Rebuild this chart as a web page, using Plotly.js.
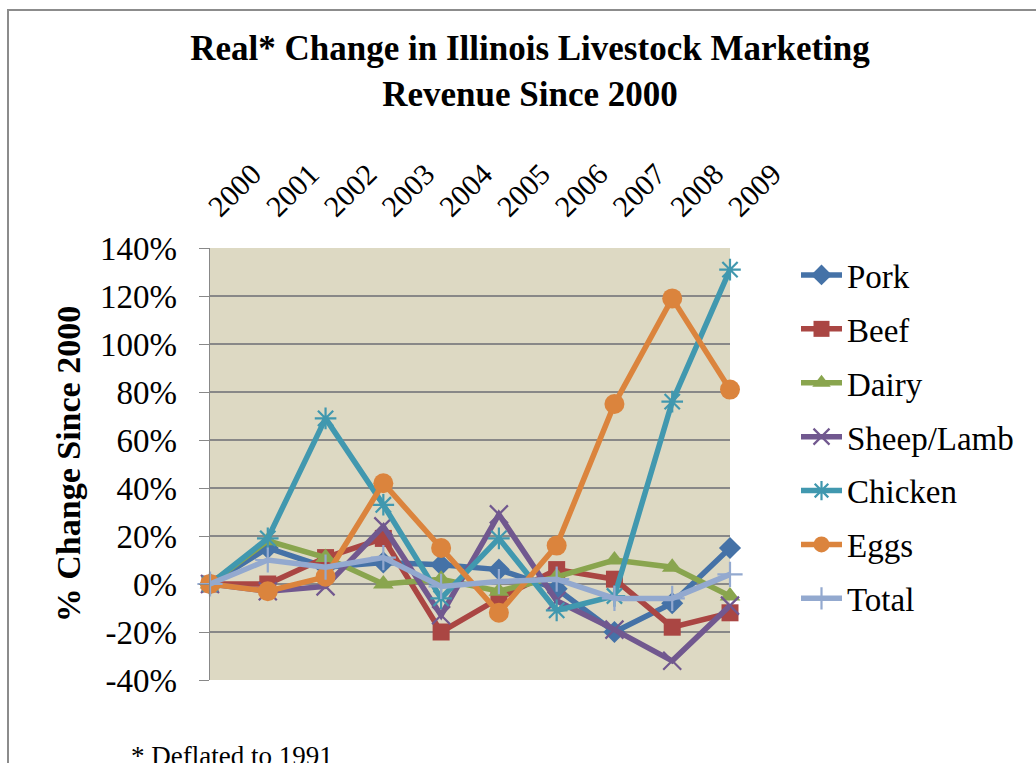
<!DOCTYPE html>
<html>
<head>
<meta charset="utf-8">
<script src="https://cdn.plot.ly/plotly-3.0.1.min.js"></script>
<style>
body{margin:0;background:#fff;}
#chart{width:1036px;height:763px;}
</style>
</head>
<body>
<div id="chart"></div>
<script>
// ================= DATA =================
let years = ["2000","2001","2002","2003","2004","2005","2006","2007","2008","2009"];

let pork    = [0, 15, 7, 9, 8, 6, -2, -20, -8, 15];
let beef    = [0, 0, 11, 19, -20, -6, 6, 2, -18, -12];
let dairy   = [0, 18, 11, 0, 2, -3, 3, 10, 7, -5];
let sheep   = [0, -3, -1, 24, -13, 29, -7, -19, -32, -9];
let chicken = [0, 19, 69, 33, -6, 19, -11, -5, 76, 131];
let eggs    = [0, -3, 3, 42, 15, -12, 16, 75, 119, 81];
let total   = [0, 10, 7, 11, -1, 1, 2, -6, -6, 4];

let yTickVals = [-40, -20, 0, 20, 40, 60, 80, 100, 120, 140];
let yTickText = ["-40%","-20%","0%","20%","40%","60%","80%","100%","120%","140%"];

// ================= TRACES =================
const FONT = "'Liberation Serif', 'Times New Roman', serif";

function series(name, values, color, symbol, size){
let open = symbol.indexOf("open") >= 0;
return {
x: years,
y: values,
name: name,
legendgroup: name,
type: "scatter",
mode: "lines+markers",
cliponaxis: false,
line: {color: color, width: 5.5},
marker: {
symbol: symbol,
size: size,
color: color,
line: {color: color, width: open ? 2.2 : 0}
}
};
}

let traces = [
series("Pork", pork, "#4572A7", "diamond", 17),
series("Beef", beef, "#AA4643", "square", 17),
series("Dairy", dairy, "#89A54E", "triangle-up", 18),
series("Sheep/Lamb", sheep, "#71588F", "x-thin-open", 18),
series("Chicken", chicken, "#4198AF", "asterisk-open", 18),
series("Eggs", eggs, "#DB843D", "circle", 20),
series("Total", total, "#93A9CF", "cross-thin-open", 18)
];

// ================= LAYOUT =================
let layout = {
width: 1036,
height: 763,
margin: {l: 210, r: 306, t: 248, b: 83},
paper_bgcolor: "#ffffff",
plot_bgcolor: "#DDD9C3",
font: {family: FONT, color: "#000000", size: 33},
title: {
text: "<b>Real* Change in Illinois Livestock Marketing<br>Revenue Since 2000</b>",
font: {family: FONT, size: 35, color: "#000000"},
x: 530/1036,
xanchor: "center",
y: 1 - 60/763,
yanchor: "middle"
},
xaxis: {
type: "category",
side: "top",
range: [0, 9],
showgrid: false,
zeroline: false,
showline: false,
ticks: "",
tickangle: -45,
ticklabelstandoff: 18,
tickfont: {family: FONT, size: 30},
fixedrange: true
},
yaxis: {
range: [-40, 140],
tickvals: yTickVals,
ticktext: yTickText,
showgrid: true,
gridcolor: "#888888",
gridwidth: 1.5,
zeroline: false,
showline: true,
linecolor: "#888888",
linewidth: 1.5,
ticks: "outside",
ticklen: 10,
tickcolor: "#888888",
ticklabelstandoff: 15,
tickfont: {family: FONT, size: 33},
title: {
text: "<b>% Change Since 2000</b>",
font: {family: FONT, size: 34},
standoff: 9
},
fixedrange: true
},
showlegend: true,
legend: {
x: (796 - 210) / 520,
xanchor: "left",
y: (680 - 247) / 432,
yanchor: "top",
bgcolor: "rgba(0,0,0,0)",
font: {family: FONT, size: 33},
itemwidth: 41,
tracegroupgap: 8
},
shapes: [{
type: "rect",
xref: "paper",
yref: "paper",
x0: (8 - 210) / 520,
x1: (1045 - 210) / 520,
y0: (680 - 775) / 432,
y1: (680 - 10) / 432,
line: {color: "#8c8c8c", width: 2},
layer: "below"
}],
annotations: [{
text: "* Deflated to 1991",
xref: "paper",
yref: "paper",
x: (232 - 210) / 520,
y: (680 - 756) / 432,
xanchor: "center",
yanchor: "middle",
showarrow: false,
font: {family: FONT, size: 27}
}]
};

Plotly.newPlot("chart", traces, layout, {displayModeBar: false, staticPlot: true});
</script>
</body>
</html>
